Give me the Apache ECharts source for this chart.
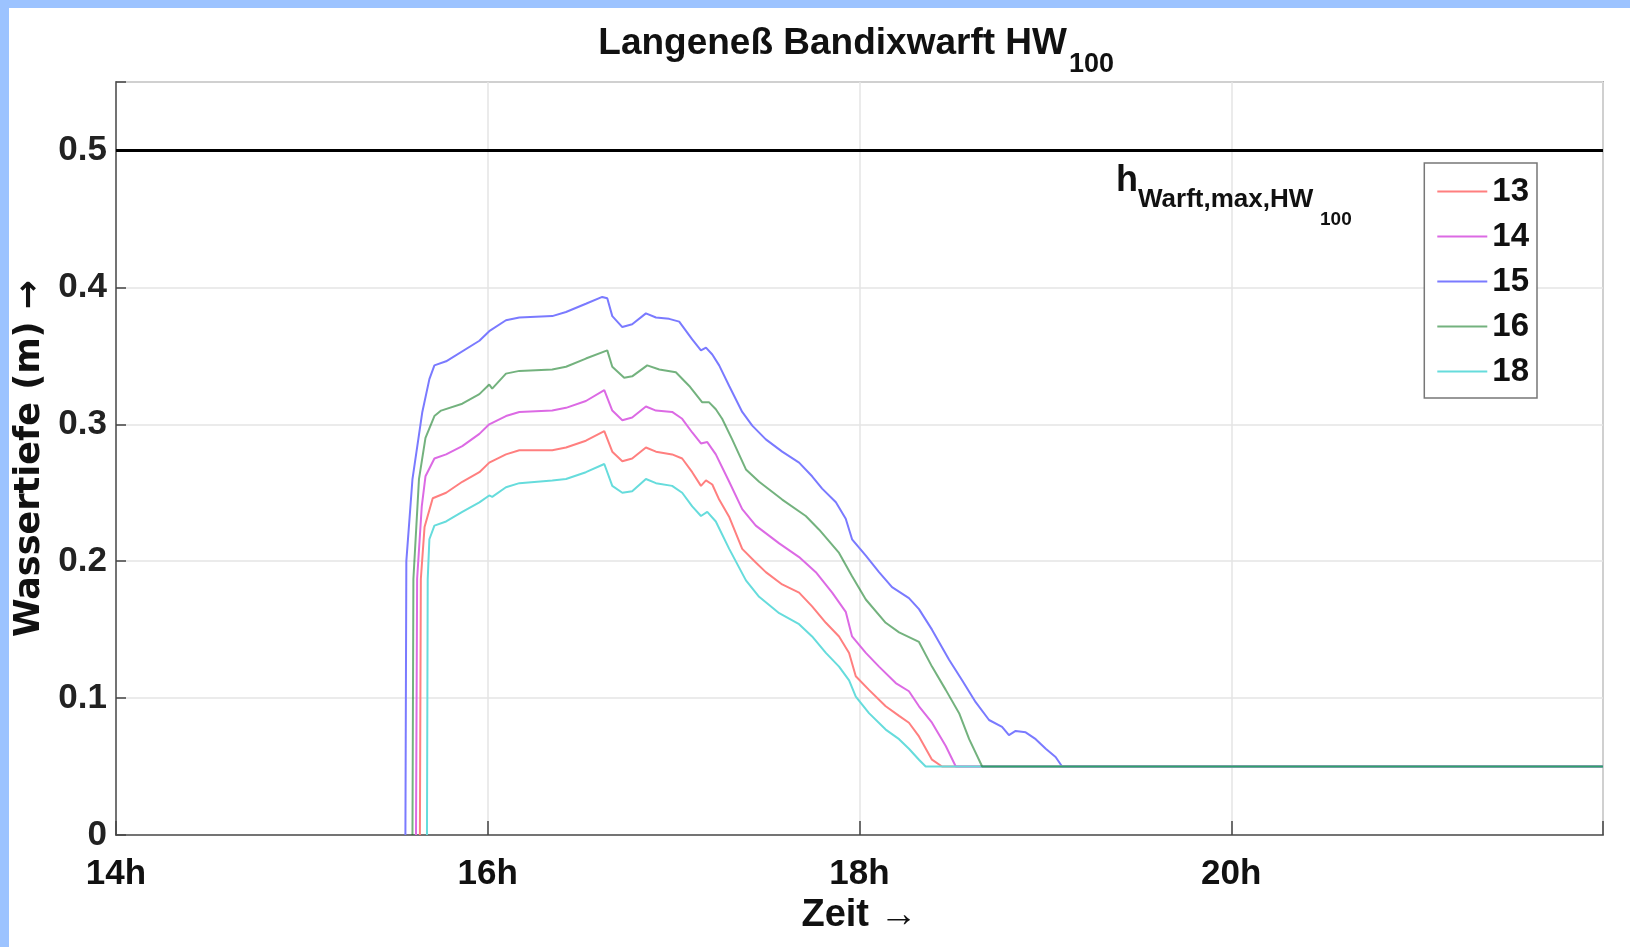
<!DOCTYPE html>
<html><head><meta charset="utf-8">
<script src="https://cdn.jsdelivr.net/npm/echarts@6/dist/echarts.min.js"></script>
<style>html,body{margin:0;padding:0;background:#fff;overflow:hidden}#c{width:1630px;height:947px}</style>
</head><body><div id="c"></div>
<script>
// ---- data (time in hours, water depth in m) ----
const seriesNames = ['13', '14', '15', '16', '18'];
const s13 = [[15.635,0],[15.64,0.187],[15.66,0.225],[15.704,0.246],[15.776,0.250],[15.863,0.258],[15.955,0.265],[16.008,0.272],[16.098,0.278],[16.170,0.281],[16.347,0.281],[16.421,0.283],[16.528,0.288],[16.627,0.295],[16.670,0.280],[16.724,0.273],[16.777,0.275],[16.851,0.283],[16.905,0.280],[16.992,0.278],[17.046,0.275],[17.100,0.265],[17.147,0.255],[17.174,0.259],[17.208,0.256],[17.245,0.245],[17.300,0.232],[17.369,0.209],[17.442,0.199],[17.496,0.192],[17.584,0.183],[17.675,0.177],[17.745,0.167],[17.819,0.155],[17.890,0.145],[17.944,0.133],[17.980,0.116],[18.051,0.106],[18.141,0.094],[18.213,0.087],[18.266,0.082],[18.320,0.072],[18.390,0.055],[18.444,0.05],[22,0.05]];
const s14 = [[15.614,0],[15.62,0.187],[15.645,0.24],[15.665,0.262],[15.713,0.275],[15.776,0.278],[15.863,0.284],[15.955,0.293],[16.008,0.300],[16.098,0.306],[16.170,0.309],[16.347,0.310],[16.421,0.312],[16.528,0.317],[16.627,0.325],[16.670,0.310],[16.724,0.303],[16.777,0.305],[16.851,0.313],[16.905,0.310],[16.992,0.309],[17.046,0.304],[17.100,0.294],[17.147,0.286],[17.181,0.287],[17.227,0.278],[17.299,0.258],[17.369,0.238],[17.442,0.226],[17.568,0.213],[17.675,0.203],[17.765,0.192],[17.853,0.177],[17.926,0.163],[17.960,0.145],[18.034,0.133],[18.105,0.123],[18.195,0.111],[18.266,0.105],[18.320,0.094],[18.390,0.082],[18.464,0.065],[18.518,0.05],[22,0.05]];
const s15 = [[15.557,0],[15.562,0.2],[15.595,0.26],[15.648,0.309],[15.686,0.333],[15.713,0.343],[15.776,0.346],[15.955,0.361],[16.008,0.368],[16.098,0.376],[16.170,0.378],[16.347,0.379],[16.421,0.382],[16.528,0.388],[16.616,0.393],[16.643,0.392],[16.670,0.379],[16.724,0.371],[16.777,0.373],[16.851,0.381],[16.905,0.378],[16.976,0.377],[17.030,0.375],[17.100,0.362],[17.147,0.354],[17.174,0.356],[17.208,0.351],[17.245,0.343],[17.299,0.328],[17.369,0.309],[17.423,0.299],[17.496,0.289],[17.584,0.280],[17.675,0.272],[17.745,0.262],[17.799,0.253],[17.873,0.243],[17.926,0.231],[17.960,0.216],[18.034,0.204],[18.105,0.192],[18.175,0.181],[18.266,0.173],[18.320,0.165],[18.390,0.150],[18.482,0.128],[18.552,0.113],[18.625,0.097],[18.697,0.084],[18.767,0.079],[18.804,0.073],[18.840,0.076],[18.894,0.075],[18.948,0.070],[19.002,0.063],[19.055,0.057],[19.090,0.05],[22,0.05]];
const s16 = [[15.595,0],[15.6,0.187],[15.63,0.26],[15.665,0.29],[15.713,0.306],[15.749,0.310],[15.863,0.315],[15.955,0.322],[16.008,0.329],[16.024,0.326],[16.098,0.337],[16.170,0.339],[16.347,0.340],[16.421,0.342],[16.528,0.348],[16.643,0.354],[16.670,0.342],[16.734,0.334],[16.777,0.335],[16.858,0.343],[16.923,0.340],[17.012,0.338],[17.084,0.328],[17.154,0.316],[17.191,0.316],[17.227,0.311],[17.261,0.304],[17.315,0.289],[17.389,0.267],[17.460,0.258],[17.584,0.245],[17.711,0.233],[17.783,0.223],[17.890,0.206],[17.960,0.189],[18.034,0.172],[18.141,0.155],[18.213,0.148],[18.320,0.141],[18.390,0.123],[18.464,0.106],[18.536,0.089],[18.590,0.070],[18.660,0.05],[22,0.05]];
const s18 = [[15.673,0],[15.677,0.187],[15.686,0.216],[15.713,0.226],[15.776,0.229],[15.863,0.236],[15.955,0.243],[16.008,0.248],[16.024,0.247],[16.098,0.254],[16.170,0.257],[16.347,0.259],[16.421,0.260],[16.528,0.265],[16.627,0.271],[16.670,0.255],[16.724,0.250],[16.777,0.251],[16.851,0.260],[16.905,0.257],[16.992,0.255],[17.046,0.250],[17.100,0.240],[17.147,0.233],[17.181,0.236],[17.227,0.229],[17.299,0.209],[17.389,0.186],[17.460,0.174],[17.568,0.162],[17.675,0.154],[17.745,0.145],[17.819,0.133],[17.890,0.123],[17.944,0.113],[17.980,0.101],[18.051,0.089],[18.141,0.077],[18.213,0.070],[18.266,0.063],[18.320,0.055],[18.356,0.05],[22,0.05]];
const hWarftMax = 0.5;
const xRange = [14, 22];
const xTicks = [14, 16, 18, 20];
const xTickLabels = ['14h', '16h', '18h', '20h'];
const yTicks = [0, 0.1, 0.2, 0.3, 0.4, 0.5];
const yTickLabels = ['0', '0.1', '0.2', '0.3', '0.4', '0.5'];

// ---- styling ----
const SANS = "'Liberation Sans', Arial, 'DejaVu Sans', sans-serif";
const DEJA = "'DejaVu Sans', 'Liberation Sans', sans-serif";
const colors = {
  '13': '#ff7f7f',
  '14': '#dc6ae4',
  '15': '#7a7aff',
  '16': 'rgba(0,115,20,0.55)',
  '18': '#66dcdc'
};
const dataMap = { '13': s13, '14': s14, '15': s15, '16': s16, '18': s18 };
const drawOrder = ['15', '13', '14', '18', '16'];

function fmtX(v) {
  const i = xTicks.findIndex(t => Math.abs(t - v) < 1e-6);
  return i >= 0 ? xTickLabels[i] : '';
}
function fmtY(v) {
  const i = yTicks.findIndex(t => Math.abs(t - v) < 1e-6);
  return i >= 0 ? yTickLabels[i] : '';
}

const chart = echarts.init(document.getElementById('c'));
const lineSeries = drawOrder.map((n, k) => ({
  name: n,
  type: 'line',
  data: dataMap[n],
  symbol: 'none',
  showSymbol: false,
  z: 3 + k,
  color: colors[n],
  lineStyle: { width: 2, color: colors[n] },
  animation: false
}));

chart.setOption({
  backgroundColor: '#ffffff',
  animation: false,
  grid: { left: 116, right: 27, top: 82, bottom: 112, show: true, borderColor: '#707070', borderWidth: 1.5, backgroundColor: 'transparent' },
  xAxis: {
    type: 'value', min: xRange[0], max: xRange[1], interval: 2,
    axisLine: { show: true, lineStyle: { color: '#555', width: 1.5 } },
    axisTick: { show: true, inside: true, length: 14, lineStyle: { color: '#444', width: 1.5 } },
    axisLabel: { formatter: fmtX, fontFamily: SANS, fontWeight: 'bold', fontSize: 35, color: '#111', margin: 22, showMaxLabel: true },
    splitLine: { show: true, lineStyle: { color: '#e4e4e4', width: 1.5 } },
    name: 'Zeit →', nameLocation: 'middle', nameGap: 62,
    nameTextStyle: { fontFamily: SANS, fontWeight: 'bold', fontSize: 38, color: '#111' }
  },
  yAxis: {
    type: 'value', min: 0, max: 0.55, interval: 0.1,
    axisLine: { show: true, lineStyle: { color: '#555', width: 1.5 } },
    axisTick: { show: true, inside: true, length: 10, lineStyle: { color: '#444', width: 1.5 } },
    axisLabel: { formatter: fmtY, fontFamily: SANS, fontWeight: 'bold', fontSize: 35, color: '#222', margin: 9 },
    splitLine: { show: true, lineStyle: { color: '#e4e4e4', width: 1.5 } },
    name: 'Wassertiefe (m) →', nameLocation: 'middle', nameGap: 66, nameRotate: 90,
    nameTextStyle: { fontFamily: DEJA, fontWeight: 'bold', fontSize: 35, color: '#111' }
  },
  legend: {
    data: seriesNames, orient: 'vertical', right: 93, top: 163,
    backgroundColor: '#ffffff', borderColor: '#777', borderWidth: 1.5, borderRadius: 0,
    padding: [12, 8, 10, 12], itemWidth: 50, itemHeight: 14, itemGap: 12,
    itemStyle: { opacity: 0 },
    textStyle: { fontFamily: SANS, fontWeight: 'bold', fontSize: 33, color: '#111' }
  },
  series: [
    {
      name: 'hmax', type: 'line', data: [[xRange[0], hWarftMax], [xRange[1], hWarftMax]],
      symbol: 'none', z: 10, lineStyle: { color: '#000', width: 3 }, color: '#000', animation: false
    },
    ...lineSeries
  ],
  graphic: [
    { type: 'rect', z: 100, shape: { x: 0, y: 0, width: 1630, height: 8 }, style: { fill: '#9cc3ff' } },
    { type: 'rect', z: 100, shape: { x: 0, y: 0, width: 9, height: 947 }, style: { fill: '#9cc3ff' } },
    { type: 'text', z: 100, x: 1067, y: 44, style: { text: 'Langeneß Bandixwarft HW', font: "bold 37px " + SANS, fill: '#111', align: 'right', verticalAlign: 'middle' } },
    { type: 'text', z: 100, x: 1069, y: 65, style: { text: '100', font: "bold 27px " + SANS, fill: '#111', align: 'left', verticalAlign: 'middle' } },
    { type: 'text', z: 100, x: 1116, y: 181, style: { text: 'h', font: "bold 36px " + SANS, fill: '#111', align: 'left', verticalAlign: 'middle' } },
    { type: 'text', z: 100, x: 1138, y: 200, style: { text: 'Warft,max,HW', font: "bold 26px " + SANS, fill: '#111', align: 'left', verticalAlign: 'middle' } },
    { type: 'text', z: 100, x: 1320, y: 220, style: { text: '100', font: "bold 19px " + SANS, fill: '#111', align: 'left', verticalAlign: 'middle' } }
  ]
});
</script></body></html>
